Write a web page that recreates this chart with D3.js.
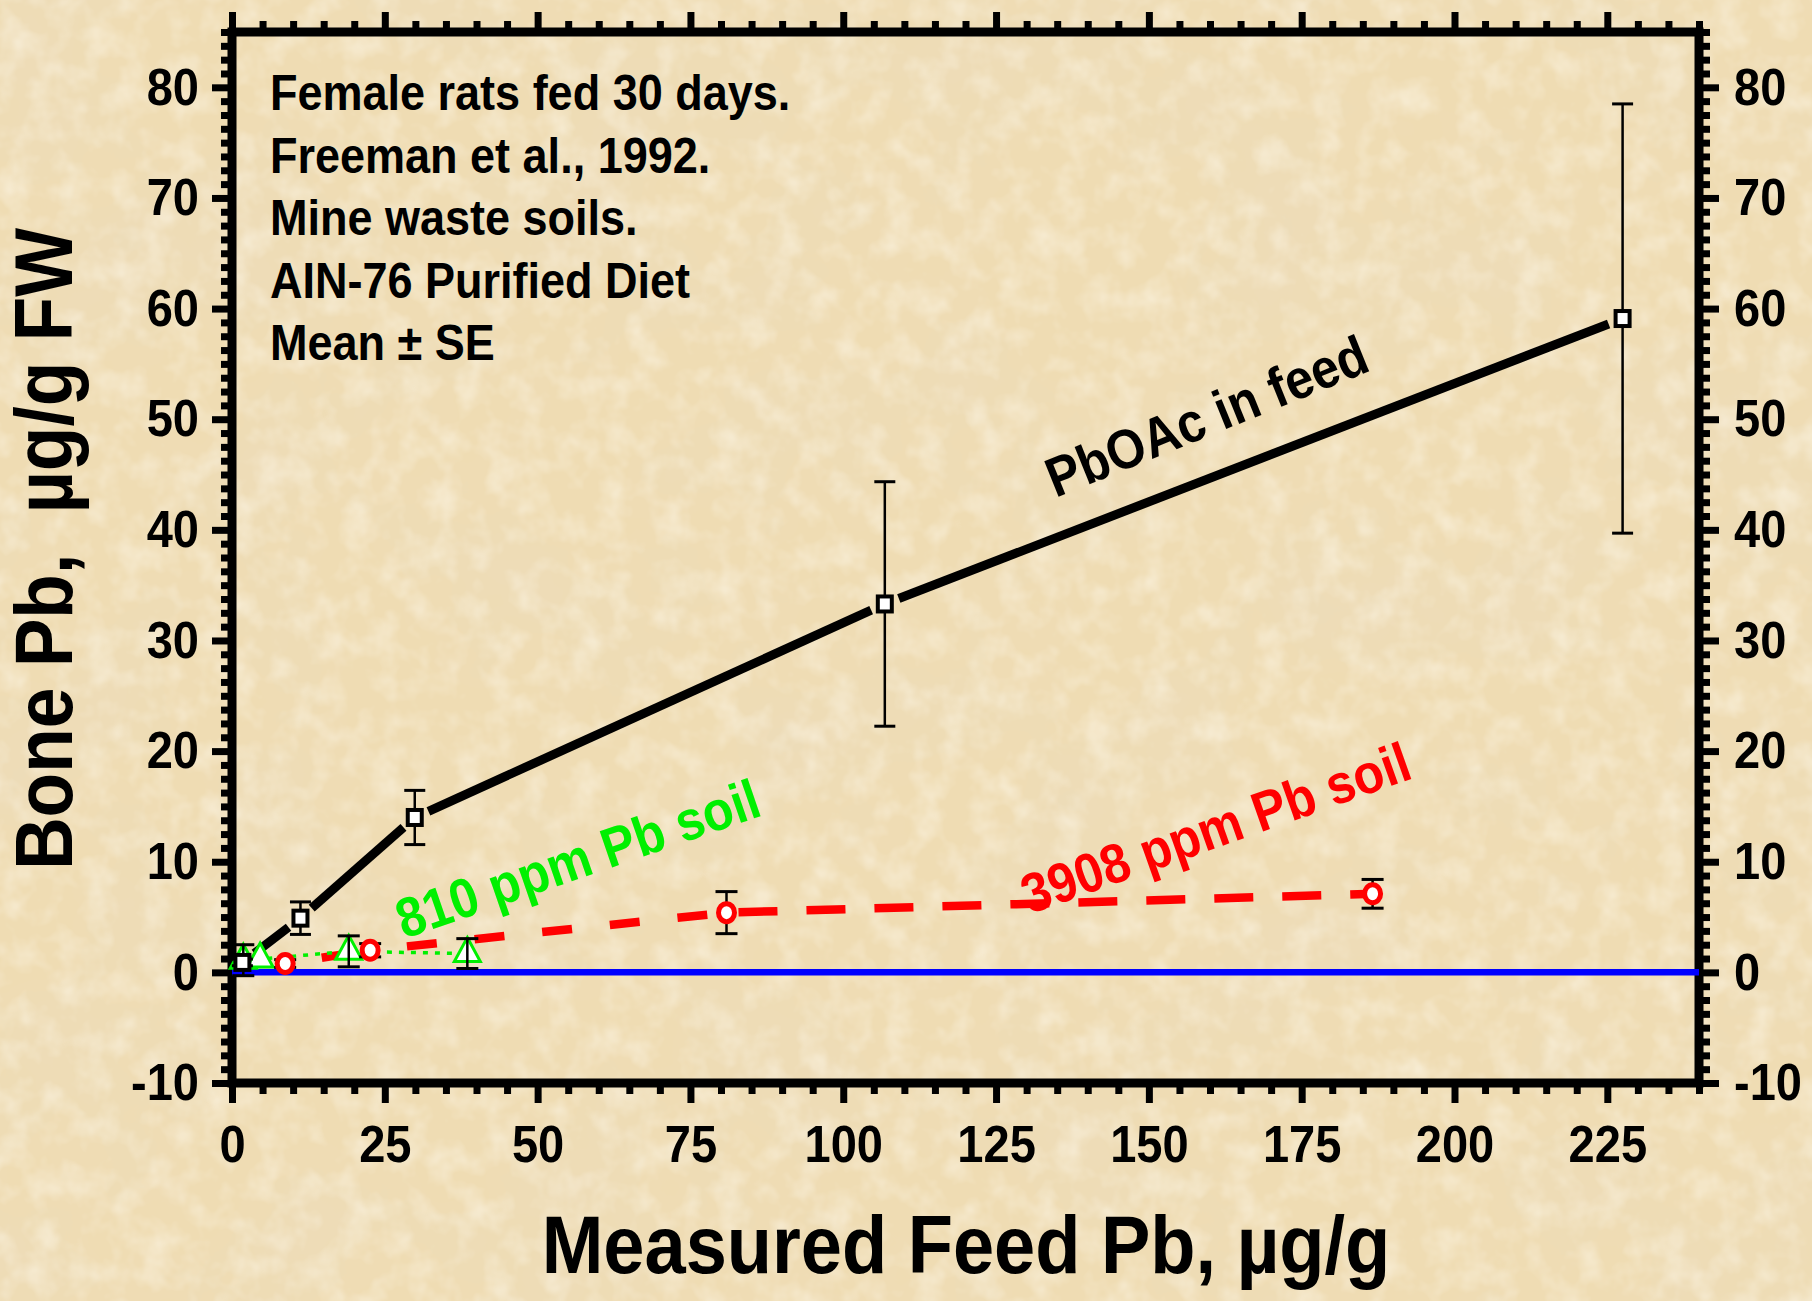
<!DOCTYPE html>
<html><head><meta charset="utf-8">
<script src="https://cdn.jsdelivr.net/npm/d3@7"></script>
<style>
body{margin:0;background:#efdcb3}
svg{display:block}
text{font-family:"Liberation Sans",Arial,sans-serif;font-weight:bold}
</style></head>
<body>
<script>
// ---- data ----
const pbX  = [1.7, 11.2, 29.9, 106.8, 227.5];
const pbY  = [0.9, 4.9, 14.0, 33.3, 59.1];
const pbSE = [0.3, 1.47, 2.45, 11.05, 19.4];

const soil3908X  = [8.7, 22.6, 80.9, 186.6];
const soil3908Y  = [0.8, 2.0, 5.4, 7.1];
const soil3908SE = [0.35, 0.6, 1.9, 1.3];

const soil810X  = [1.85, 4.6, 19.1, 38.5];
const soil810Y  = [1.1, 1.2, 1.9, 1.7];
const soil810SE = [1.4, 0, 1.4, 1.35];

const xTicks = [0, 25, 50, 75, 100, 125, 150, 175, 200, 225];
const yTicks = [-10, 0, 10, 20, 30, 40, 50, 60, 70, 80];
const xMinorStep = 5;
const yMinorStep = 1.25;

const notes = ["Female rats fed 30 days.", "Freeman et al., 1992.", "Mine waste soils.", "AIN-76 Purified Diet", "Mean \u00B1 SE"];
const xTitle = "Measured Feed Pb, \u00B5g/g";
const yTitle = "Bone Pb,  \u00B5g/g FW";
const labelPb = "PbOAc in feed";
const label810 = "810 ppm Pb soil";
const label3908 = "3908 ppm Pb soil";

// ---- layout ----
const W = 1812, H = 1301;
const L = 232, R = 1699, T = 32, B = 1083;
const x = d3.scaleLinear().domain([0, 240]).range([L, R]);
const y = d3.scaleLinear().domain([-10, 85]).range([B, T]);
const COND = 0.9; // condensed look: glyphs taller, same widths

const svg = d3.select("body").append("svg").attr("width", W).attr("height", H);

// background paper texture
const defs = svg.append("defs");
const f = defs.append("filter").attr("id", "paper").attr("x", 0).attr("y", 0).attr("width", "100%").attr("height", "100%");
f.append("feTurbulence").attr("type", "fractalNoise").attr("baseFrequency", "0.006").attr("numOctaves", 4).attr("seed", 11).attr("result", "n");
f.append("feColorMatrix").attr("in", "n").attr("type", "matrix")
  .attr("values", "0 0 0 0 0.84  0 0 0 0 0.72  0 0 0 0 0.50  1.3 0 0 0 -0.52");
const f2 = defs.append("filter").attr("id", "fiber").attr("x", 0).attr("y", 0).attr("width", "100%").attr("height", "100%");
f2.append("feTurbulence").attr("type", "fractalNoise").attr("baseFrequency", "0.035").attr("numOctaves", 3).attr("seed", 3).attr("result", "n");
f2.append("feColorMatrix").attr("in", "n").attr("type", "matrix")
  .attr("values", "0 0 0 0 0.99  0 0 0 0 0.95  0 0 0 0 0.85  1.0 0 0 0 -0.42");

svg.append("rect").attr("width", W).attr("height", H).attr("fill", "#efdcb3");
svg.append("rect").attr("width", W).attr("height", H).attr("filter", "url(#paper)");
svg.append("rect").attr("width", W).attr("height", H).attr("filter", "url(#fiber)");

function condense(sel) {
  sel.each(function () {
    const fs = parseFloat(d3.select(this).attr("font-size"));
    const w = this.getComputedTextLength();
    d3.select(this).attr("font-size", fs / COND);
    const w2 = this.getComputedTextLength();
    d3.select(this).attr("textLength", w2 * COND).attr("lengthAdjust", "spacingAndGlyphs");
  });
}

// ---- axes ----
function range(a, b, s) { const r = []; for (let v = a; v <= b + 1e-9; v += s) r.push(+v.toFixed(4)); return r; }
const xMinor = range(0, 240, xMinorStep).filter(v => !xTicks.includes(v));
const yMinor = range(-10, 85, yMinorStep).filter(v => !yTicks.includes(v));

const MAJ = 20, MIN = 11, TW = 7;
function drawAxis(gen, pos, majorVals, minorVals, labels, pad) {
  const g = svg.append("g").attr("transform", pos);
  g.call(gen.tickValues(majorVals).tickSize(MAJ).tickPadding(pad).tickFormat(labels ? (d => String(d)) : () => ""));
  g.select(".domain").remove();
  g.selectAll(".tick line").attr("stroke", "#000").attr("stroke-width", TW);
  g.selectAll(".tick text").attr("fill", "#000").attr("font-size", 47)
    .style("font-family", '"Liberation Sans",Arial,sans-serif').style("font-weight", "bold");
  if (labels) condense(g.selectAll(".tick text"));
  const gm = svg.append("g").attr("transform", pos);
  gm.call(gen.tickValues(minorVals).tickSize(MIN).tickFormat(() => ""));
  gm.select(".domain").remove();
  gm.selectAll(".tick line").attr("stroke", "#000").attr("stroke-width", TW);
}
drawAxis(d3.axisBottom(x), `translate(0,${B})`, xTicks, xMinor, true, 22);
drawAxis(d3.axisTop(x), `translate(0,${T})`, xTicks, xMinor, false, 10);
drawAxis(d3.axisLeft(y), `translate(${L},0)`, yTicks, yMinor, true, 13);
drawAxis(d3.axisRight(y), `translate(${R},0)`, yTicks, yMinor, true, 15);

// frame
svg.append("rect").attr("x", L).attr("y", T).attr("width", R - L).attr("height", B - T)
  .attr("fill", "none").attr("stroke", "#000").attr("stroke-width", 9);

// zero line
svg.append("line").attr("x1", x(0)).attr("x2", x(240)).attr("y1", y(0)).attr("y2", y(0))
  .attr("stroke", "#0000ff").attr("stroke-width", 6.5);

// ---- series lines ----
function pts(xs, ys) { return xs.map((v, i) => [x(v), y(ys[i])]); }
const pbPts = pts(pbX, pbY), redPts = pts(soil3908X, soil3908Y), grnPts = pts(soil810X, soil810Y);

// black line with gaps at markers
const gap = 15;
for (let i = 0; i < pbPts.length - 1; i++) {
  const [x1, y1] = pbPts[i], [x2, y2] = pbPts[i + 1];
  const d = Math.hypot(x2 - x1, y2 - y1), ux = (x2 - x1) / d, uy = (y2 - y1) / d;
  svg.append("line").attr("x1", x1 + ux * gap).attr("y1", y1 + uy * gap)
    .attr("x2", x2 - ux * gap).attr("y2", y2 - uy * gap)
    .attr("stroke", "#000").attr("stroke-width", 9);
}
// red dashed (dash pattern per segment as drawn in the original)
const redDash = [["30,38", 31], ["30,38", 31], ["39,29", 56]];
for (let i = 0; i < redPts.length - 1; i++) {
  svg.append("path").attr("d", d3.line()([redPts[i], redPts[i + 1]]))
    .attr("fill", "none").attr("stroke", "#ff0000").attr("stroke-width", 8.5)
    .attr("stroke-dasharray", redDash[i][0]).attr("stroke-dashoffset", redDash[i][1]);
}
// green dotted
svg.append("path").attr("d", d3.line()(grnPts)).attr("fill", "none")
  .attr("stroke", "#00f000").attr("stroke-width", 3.5).attr("stroke-dasharray", "5,7");

// ---- error bars ----
function errBars(xs, ys, es, cap) {
  const g = svg.append("g");
  xs.forEach((v, i) => {
    if (!es[i]) return;
    const cx = x(v), y1 = y(ys[i] + es[i]), y2 = y(ys[i] - es[i]);
    g.append("line").attr("x1", cx).attr("x2", cx).attr("y1", y1).attr("y2", y2).attr("stroke", "#000").attr("stroke-width", 2.5);
    [y1, y2].forEach(yy => g.append("line").attr("x1", cx - cap).attr("x2", cx + cap).attr("y1", yy).attr("y2", yy).attr("stroke", "#000").attr("stroke-width", 3));
  });
}

// triangles (810 ppm)
const tri = "M0,-16L13,8L-13,8Z";
svg.append("g").selectAll("path").data(grnPts).join("path")
  .attr("d", tri).attr("transform", d => `translate(${d[0]},${d[1]})`)
  .attr("fill", "#fff").attr("stroke", "#00f000").attr("stroke-width", 3);
errBars(soil810X, soil810Y, soil810SE, 11);

// squares (PbOAc)
errBars(pbX, pbY, pbSE, 10.5);
svg.append("g").selectAll("rect").data(pbPts).join("rect")
  .attr("x", d => d[0] - 7).attr("y", d => d[1] - 7.5).attr("width", 14).attr("height", 15)
  .attr("fill", "#fff").attr("stroke", "#000").attr("stroke-width", 4);

// circles (3908 ppm)
errBars(soil3908X, soil3908Y, soil3908SE, 11);
svg.append("g").selectAll("ellipse").data(redPts).join("ellipse")
  .attr("cx", d => d[0]).attr("cy", d => d[1]).attr("rx", 8).attr("ry", 9)
  .attr("fill", "#fff").attr("stroke", "#ff0000").attr("stroke-width", 5);

// ---- texts ----
condense(svg.append("g").selectAll("text").data(notes).join("text")
  .attr("x", 270).attr("y", (d, i) => 110 + i * 62.6)
  .attr("font-size", 45).attr("fill", "#000").text(d => d));

function rotLabel(t, cx, cy, ang, size, color) {
  condense(svg.append("text").attr("transform", `translate(${cx},${cy}) rotate(${-ang})`)
    .attr("text-anchor", "middle").attr("font-size", size).attr("fill", color).text(t));
}
rotLabel(labelPb, 1214, 434, 22, 50, "#000");
rotLabel(label810, 584, 877, 19, 50, "#00f000");
rotLabel(label3908, 1222, 846, 19.5, 50, "#ff0000");

condense(svg.append("text").attr("x", 966).attr("y", 1273).attr("text-anchor", "middle")
  .attr("font-size", 74).attr("fill", "#000").text(xTitle));
condense(svg.append("text").attr("transform", "translate(72,549) rotate(-90)").attr("text-anchor", "middle")
  .style("white-space", "pre").attr("font-size", 73).attr("fill", "#000").text(yTitle));
</script>
</body></html>
